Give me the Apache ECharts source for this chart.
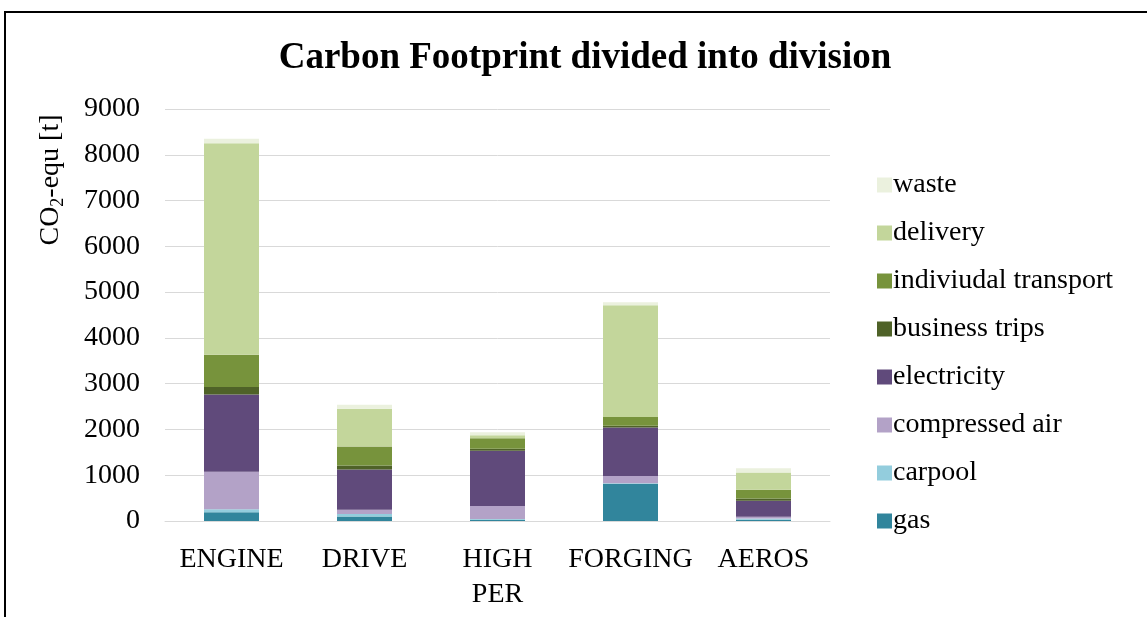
<!DOCTYPE html>
<html>
<head>
<meta charset="utf-8">
<title>Carbon Footprint divided into division</title>
<script src="https://cdn.jsdelivr.net/npm/echarts@6/dist/echarts.min.js"></script>
<style>
  html, body { margin: 0; padding: 0; background: #fff; }
  #chart { width: 1147px; height: 617px; }
</style>
</head>
<body>
<div id="chart"></div>
<script>
// Divisions along the x axis
const divisions = ['ENGINE', 'DRIVE', 'HIGH\nPER', 'FORGING', 'AEROS'];

// CO2-equivalent per source, in tonnes, per division (stacked bottom to top)
const gas              = [190, 100, 30, 810, 30];
const carpool          = [65, 55, 15, 15, 25];
const compressedAir    = [820, 90, 280, 160, 40];
const electricity      = [1690, 880, 1210, 1055, 350];
const businessTrips    = [160, 90, 45, 40, 45];
const individualTransp = [707, 415, 225, 190, 190];
const delivery         = [4618, 820, 70, 2444, 380];
const waste            = [100, 90, 65, 66, 95];

const yTicks = { min: 0, max: 9000, interval: 1000 };

const stackSeries = [
  { name: 'gas', data: gas, color: '#31859C' },
  { name: 'carpool', data: carpool, color: '#93CDDD' },
  { name: 'compressed air', data: compressedAir, color: '#B3A2C7' },
  { name: 'electricity', data: electricity, color: '#604A7B' },
  { name: 'business trips', data: businessTrips, color: '#4F6228' },
  { name: 'indiviudal transport', data: individualTransp, color: '#77933C' },
  { name: 'delivery', data: delivery, color: '#C3D69B' },
  { name: 'waste', data: waste, color: '#EBF1DE' }
];

const serif = '"Liberation Serif", "Times New Roman", serif';

const chart = echarts.init(document.getElementById('chart'), null, { renderer: 'canvas' });

chart.setOption({
  backgroundColor: '#fff',
  animation: false,
  title: {
    text: 'Carbon Footprint divided into division',
    left: 580,
    textAlign: 'center',
    top: 35,
    textStyle: { fontFamily: serif, fontSize: 37, fontWeight: 'bold', color: '#000' }
  },
  legend: {
    orient: 'vertical',
    left: 872,
    top: 166,
    itemWidth: 15,
    itemHeight: 15,
    itemGap: 20,
    icon: 'rect',
    data: stackSeries.map(s => s.name).reverse(),
    textStyle: { fontFamily: serif, fontSize: 28, color: '#000', padding: [0, 0, 0, -4] }
  },
  grid: { left: 165, right: 317, top: 109, bottom: 96, containLabel: false },
  xAxis: {
    type: 'category',
    data: divisions,
    axisLine: { lineStyle: { color: '#D9D9D9', width: 1 } },
    axisTick: { show: false },
    axisLabel: {
      fontFamily: serif, fontSize: 28, color: '#000',
      margin: 21, lineHeight: 35, interval: 0
    }
  },
  yAxis: {
    type: 'value',
    min: yTicks.min,
    max: yTicks.max,
    interval: yTicks.interval,
    axisLine: { show: false },
    axisTick: { show: false },
    splitLine: { lineStyle: { color: '#D9D9D9', width: 1 } },
    axisLabel: {
      fontFamily: serif, fontSize: 28, color: '#000', margin: 25,
      formatter: v => String(v)
    }
  },
  graphic: [
    {
      type: 'rect',
      silent: true,
      shape: { x: 5, y: 12, width: 1300, height: 800 },
      style: { fill: 'none', stroke: '#000', lineWidth: 2 }
    },
    {
      type: 'text',
      x: 51,
      y: 180,
      rotation: Math.PI / 2,
      style: {
        text: '{a|CO}{s|2}{a|-equ [t]}',
        align: 'center',
        verticalAlign: 'middle',
        rich: {
          a: { fontFamily: serif, fontSize: 28, fill: '#000' },
          s: { fontFamily: serif, fontSize: 18, fill: '#000', padding: [14, 0, 0, 0] }
        }
      }
    }
  ],
  series: stackSeries.map(s => ({
    name: s.name,
    type: 'bar',
    stack: 'total',
    barWidth: 55,
    data: s.data,
    itemStyle: { color: s.color },
    emphasis: { disabled: true }
  }))
});
</script>
</body>
</html>
